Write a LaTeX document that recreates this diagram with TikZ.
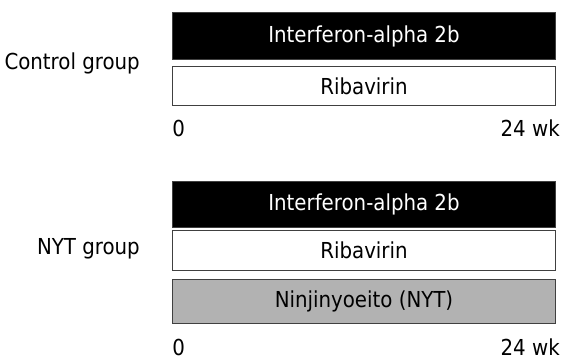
\documentclass[tikz,border=0pt]{standalone}
\usepackage{fontspec}
\setmainfont{DejaVu Sans Condensed}
\usetikzlibrary{positioning}
\colorlet{nytgray}{black!30}
\newcommand{\labfont}{\fontsize{16.5}{18}\selectfont}
\tikzset{
  bar/.style={draw=black!75,line width=0.75pt,minimum width=287.25pt,inner sep=0pt,font=\labfont},
  ifnbar/.style={bar,fill=black,text=white},
  ribbar/.style={bar,fill=white},
  nytbar/.style={bar,fill=nytgray},
  grplabel/.style={anchor=base east,inner sep=0pt,font=\labfont},
  wklabel/.style={inner sep=0pt,font=\labfont}
}

\begin{document}
\begin{tikzpicture}[x=0.75pt,y=-0.75pt]
\useasboundingbox (0,0) rectangle (563,359);
% control group
\node[ifnbar,minimum height=35.25pt,anchor=north west] (ifnC) at (172,12.3) {Interferon-alpha 2b};
\node[ribbar,minimum height=29.25pt,below=4.5pt of ifnC] (ribC) {Ribavirin};
\node[grplabel] (ctrl) at (140,70) {Control group};
\node[wklabel,anchor=base west] (startC) at (172,137) {0};
\node[wklabel,anchor=base east] (endC) at (560,137) {24 wk};
% NYT group
\node[ifnbar,minimum height=34.7pt,anchor=north west] (ifnN) at (172,181) {Interferon-alpha 2b};
\node[ribbar,minimum height=30pt,below=1.5pt of ifnN] (ribN) {Ribavirin};
\node[nytbar,minimum height=32.5pt,below=6pt of ribN] (nyt) {Ninjinyoeito (NYT)};
\node[grplabel] (nytgrp) at (140,255) {NYT group};
\node[wklabel,anchor=base west] (startN) at (172,355) {0};
\node[wklabel,anchor=base east] (endN) at (560,355) {24 wk};
\end{tikzpicture}
\end{document}
